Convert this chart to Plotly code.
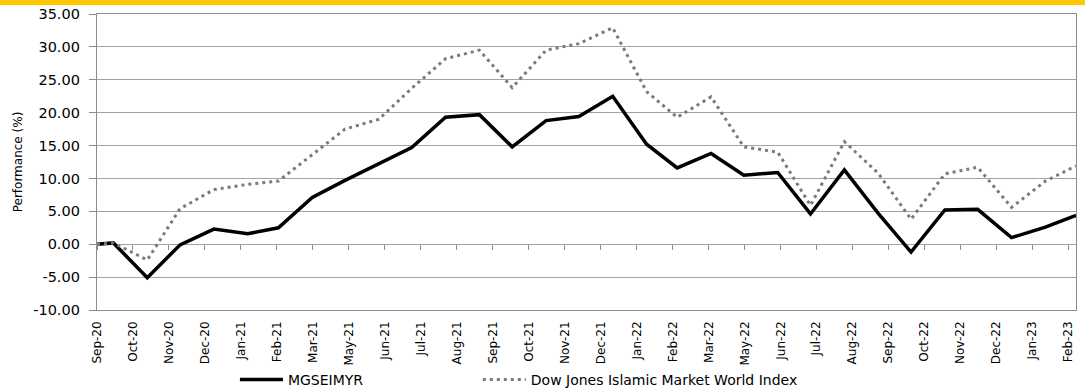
import plotly.graph_objects as go

# Month-end observation dates (first point is the fund's start date)
dates = [
    "2020-09-15", "2020-09-30", "2020-10-31", "2020-11-30", "2020-12-31",
    "2021-01-31", "2021-02-28", "2021-03-31", "2021-04-30", "2021-05-31",
    "2021-06-30", "2021-07-31", "2021-08-31", "2021-09-30", "2021-10-31",
    "2021-11-30", "2021-12-31", "2022-01-31", "2022-02-28", "2022-03-31",
    "2022-04-30", "2022-05-31", "2022-06-30", "2022-07-31", "2022-08-31",
    "2022-09-30", "2022-10-31", "2022-11-30", "2022-12-31", "2023-01-31",
    "2023-02-28",
]

# Cumulative performance (%)
mgseimyr = [
    0.0, 0.2, -5.1, -0.1, 2.3,
    1.6, 2.5, 7.1, 9.7, 12.2,
    14.7, 19.3, 19.7, 14.8, 18.8,
    19.4, 22.5, 15.2, 11.6, 13.8,
    10.5, 10.9, 4.6, 11.3, 4.7,
    -1.2, 5.2, 5.3, 1.0, 2.6,
    4.4,
]
dow_jones_islamic = [
    0.0, 0.2, -2.4, 5.4, 8.3,
    9.1, 9.6, 13.6, 17.5, 19.0,
    23.7, 28.2, 29.5, 23.8, 29.5,
    30.5, 32.9, 23.2, 19.3, 22.4,
    14.8, 14.0, 5.9, 15.6, 10.8,
    3.8, 10.7, 11.7, 5.6, 9.6,
    11.9,
]

# Category labels shown along the bottom axis
month_labels = [
    "Sep-20", "Oct-20", "Nov-20", "Dec-20", "Jan-21", "Feb-21", "Mar-21",
    "May-21", "Jun-21", "Jul-21", "Aug-21", "Sep-21", "Oct-21", "Nov-21",
    "Dec-21", "Jan-22", "Feb-22", "Mar-22", "May-22", "Jun-22", "Jul-22",
    "Aug-22", "Sep-22", "Oct-22", "Nov-22", "Dec-22", "Jan-23", "Feb-23",
]

y_ticks = [-10, -5, 0, 5, 10, 15, 20, 25, 30, 35]
y_tick_text = ["-10.00", "-5.00", "0.00", "5.00", "10.00", "15.00",
               "20.00", "25.00", "30.00", "35.00"]

FONT = "DejaVu Sans"
GRID = "#a3a3a3"
BORDER = "#8c8c8c"

fig = go.Figure()
fig.add_trace(go.Scatter(
    x=dates, y=mgseimyr, name="MGSEIMYR", mode="lines",
    line=dict(color="black", width=3.5),
    xaxis="x", yaxis="y", legend="legend",
))
fig.add_trace(go.Scatter(
    x=dates, y=dow_jones_islamic, name="Dow Jones Islamic Market World Index",
    mode="lines",
    line=dict(color="#7a7a7a", width=3, dash="3px,4px"),
    xaxis="x", yaxis="y", legend="legend2",
))

# Empty traces so the category label axis and the tick axis get drawn
for ax in ("x2", "x3"):
    fig.add_trace(go.Scatter(x=[], y=[], xaxis=ax, yaxis="y",
                             showlegend=False, hoverinfo="skip"))

cat_range = [0, 27.21]
cat_pos = list(range(len(month_labels)))

legend_common = dict(
    orientation="h", xanchor="left", yanchor="middle",
    y=(310 - 380) / 296,
    font=dict(family=FONT, size=14, color="black"),
    bgcolor="rgba(0,0,0,0)", itemwidth=43,
)

fig.update_layout(
    width=1085, height=391,
    margin=dict(l=97, r=8.5, t=14, b=81, autoexpand=False),
    paper_bgcolor="white", plot_bgcolor="white",
    font=dict(family=FONT, color="black"),
    showlegend=True,
    legend=dict(x=(235 - 97) / 979.5, **legend_common),
    legend2=dict(x=(478 - 97) / 979.5, **legend_common),
    xaxis=dict(
        type="date", range=[dates[0], dates[-1]], automargin=False,
        showticklabels=False, ticks="", showgrid=False, zeroline=False,
        showline=True, mirror=True, linecolor=BORDER, linewidth=1.3,
    ),
    xaxis2=dict(
        overlaying="x", anchor="y", side="bottom", automargin=False,
        range=cat_range, tickmode="array", tickvals=cat_pos, ticktext=month_labels,
        tickangle=-90, ticks="", showgrid=False, zeroline=False, showline=False,
        tickfont=dict(family=FONT, size=12, color="black"),
        ticklabelstandoff=8,
    ),
    xaxis3=dict(
        overlaying="x", anchor="free", position=10 / 45, automargin=False,
        range=cat_range, tickmode="array", tickvals=cat_pos,
        ticks="outside", ticklen=5, tickwidth=1.3, tickcolor=BORDER,
        showticklabels=False, showgrid=False, zeroline=False, showline=False,
    ),
    yaxis=dict(
        range=[-10, 35], tickmode="array", tickvals=y_ticks, ticktext=y_tick_text,
        automargin=False,
        showgrid=True, gridcolor=GRID, gridwidth=1.3, zeroline=False,
        showline=True, mirror=True, linecolor=BORDER, linewidth=1.3,
        ticks="outside", ticklen=7, tickwidth=1.3, tickcolor=BORDER,
        tickfont=dict(family=FONT, size=14.5, color="black"),
        ticklabelstandoff=6,
        title=dict(text="Performance (%)", font=dict(family=FONT, size=12, color="black"),
                   standoff=8),
    ),
    shapes=[dict(
        type="rect", xref="paper", x0=-0.2, x1=1.1,
        yref="paper", ysizemode="pixel", yanchor=1, y0=9, y1=16,
        fillcolor="#FFC800", line=dict(width=0), layer="above",
    )],
)

fig.write_html("out.html")
